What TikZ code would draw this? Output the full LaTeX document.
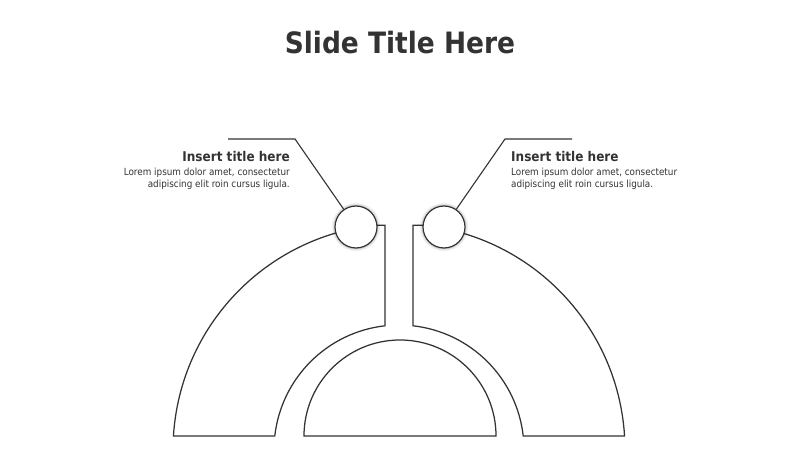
\documentclass[tikz,border=0pt]{standalone}
\usepackage{fontspec}
\setmainfont{DejaVu Sans Condensed}
\definecolor{ink}{HTML}{333333}
\definecolor{linec}{HTML}{333333}
\begin{document}
\begin{tikzpicture}[x=1pt,y=1pt,
  band/.style={draw=linec, line width=1.25pt, fill=white, line join=miter},
  dot/.style={circle, draw=linec, line width=1.2pt, fill=white, minimum size=42pt, inner sep=0pt},
  leader/.style={draw=linec, line width=1.1pt},
  ttl/.style={font=\bfseries\fontsize{13.4}{16}\selectfont, text=ink, inner sep=0pt},
  body/.style={font=\fontsize{9.8}{12}\selectfont, text=ink, inner sep=0pt},
]
\useasboundingbox (0,0) rectangle (800,450);
\fill[white] (0,0) rectangle (800,450);

% title
\node[font=\bfseries\fontsize{29.4}{34}\selectfont, text=ink, anchor=base, inner sep=0pt] (title) at (400,396.5) {Slide Title Here};

% bands
\draw[band] (399,0) ++(176.45:226) arc[start angle=176.45, end angle=95.84, radius=226]
  -- (385,224.83) -- (385,124.21) arc[start angle=96.43, end angle=173.57, radius=125] -- cycle;
\draw[band] (399,0) ++(3.55:226) arc[start angle=3.55, end angle=84.16, radius=226]
  -- (413,224.83) -- (413,124.21) arc[start angle=83.57, end angle=6.43, radius=125] -- cycle;
\draw[band] (304,14) arc[start angle=180, end angle=0, radius=96] -- cycle;

% soft glow round the dots
\foreach \r/\o in {24.5/0.03, 23.5/0.05, 22.5/0.08}{
  \fill[black, opacity=\o] (356,223) circle (\r);
  \fill[black, opacity=\o] (444,223) circle (\r);
}
\node[dot] (c1) at (356,223) {};
\node[dot] (c2) at (444,223) {};

% leaders
\coordinate (l1) at (228,311);
\coordinate (l2) at (295,311);
\coordinate (r1) at (572,311);
\coordinate (r2) at (505,311);
\draw[leader] (l1) -- (l2) -- (c1);
\draw[leader] (r1) -- (r2) -- (c2);

% texts
\node[ttl, anchor=base east] (lt) at (290,288.5) {Insert title here};
\node[body, align=right, anchor=north east] (lb) at (290,282.4) {Lorem ipsum dolor amet, consectetur\\adipiscing elit roin cursus ligula.};
\node[ttl, anchor=base west] (rt) at (511,288.5) {Insert title here};
\node[body, align=left, anchor=north west] (rb) at (511,282.4) {Lorem ipsum dolor amet, consectetur\\adipiscing elit roin cursus ligula.};
\end{tikzpicture}
\end{document}
